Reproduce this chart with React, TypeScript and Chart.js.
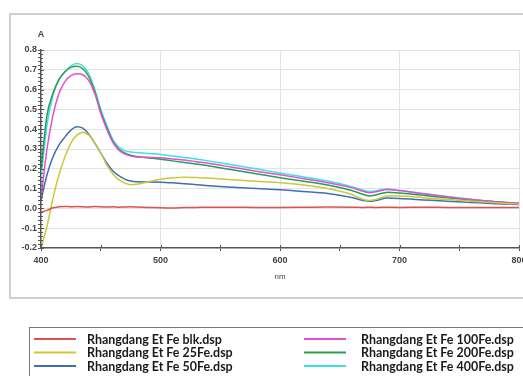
import React, { useEffect, useRef } from "react";
import { Chart, registerables } from "chart.js";
Chart.register(...registerables);

const wavelengths = [400, 405, 410, 415, 420, 425, 430, 435, 440, 445, 450, 455, 460, 465, 470, 475, 480, 490, 500, 510, 520, 530, 540, 560, 580, 600, 620, 640, 660, 670, 675, 680, 690, 700, 720, 740, 760, 780, 800];

const blk = [-0.02, -0.01, 0.003, 0.008, 0.01, 0.008, 0.009, 0.008, 0.007, 0.009, 0.008, 0.007, 0.008, 0.006, 0.007, 0.008, 0.007, 0.005, 0.003, 0.002, 0.004, 0.005, 0.006, 0.006, 0.005, 0.005, 0.006, 0.007, 0.006, 0.005, 0.006, 0.005, 0.006, 0.005, 0.006, 0.005, 0.004, 0.005, 0.004];
const fe25 = [-0.2, -0.09, 0.05, 0.17, 0.26, 0.33, 0.37, 0.385, 0.37, 0.33, 0.28, 0.22, 0.175, 0.145, 0.128, 0.12, 0.122, 0.135, 0.147, 0.155, 0.157, 0.156, 0.153, 0.145, 0.137, 0.13, 0.118, 0.1, 0.07, 0.045, 0.04, 0.045, 0.062, 0.062, 0.054, 0.045, 0.036, 0.028, 0.022];
const fe50 = [0.04, 0.17, 0.26, 0.32, 0.36, 0.395, 0.412, 0.405, 0.375, 0.33, 0.28, 0.23, 0.19, 0.165, 0.148, 0.138, 0.134, 0.133, 0.132, 0.129, 0.125, 0.12, 0.115, 0.107, 0.1, 0.094, 0.085, 0.075, 0.055, 0.04, 0.036, 0.04, 0.052, 0.05, 0.043, 0.036, 0.03, 0.024, 0.02];
const fe100 = [0.05, 0.3, 0.47, 0.58, 0.64, 0.67, 0.68, 0.675, 0.645, 0.58, 0.48, 0.4, 0.335, 0.295, 0.275, 0.265, 0.26, 0.258, 0.256, 0.25, 0.244, 0.236, 0.228, 0.208, 0.188, 0.17, 0.15, 0.13, 0.105, 0.085, 0.079, 0.084, 0.096, 0.09, 0.074, 0.058, 0.045, 0.034, 0.026];
const fe200 = [0.2, 0.47, 0.58, 0.65, 0.69, 0.712, 0.718, 0.705, 0.665, 0.59, 0.49, 0.41, 0.34, 0.3, 0.28, 0.268, 0.262, 0.255, 0.248, 0.24, 0.232, 0.224, 0.215, 0.195, 0.175, 0.155, 0.137, 0.118, 0.09, 0.07, 0.063, 0.068, 0.082, 0.078, 0.066, 0.054, 0.043, 0.033, 0.025];
const fe400 = [0.15, 0.42, 0.57, 0.65, 0.69, 0.72, 0.732, 0.72, 0.68, 0.6, 0.5, 0.42, 0.35, 0.31, 0.292, 0.285, 0.282, 0.277, 0.272, 0.265, 0.257, 0.249, 0.24, 0.22, 0.2, 0.179, 0.159, 0.138, 0.11, 0.092, 0.085, 0.088, 0.098, 0.09, 0.075, 0.06, 0.046, 0.034, 0.026];

const seriesLabels = [
  "Rhangdang Et Fe blk.dsp",
  "Rhangdang Et Fe 25Fe.dsp",
  "Rhangdang Et Fe 50Fe.dsp",
  "Rhangdang Et Fe 100Fe.dsp",
  "Rhangdang Et Fe 200Fe.dsp",
  "Rhangdang Et Fe 400Fe.dsp",
];
const seriesColors = ["#d9534f", "#c9c93a", "#3f6fb0", "#e050d0", "#2a9a55", "#3ee0e0"];

const xTickValues = [400, 450, 500, 550, 600, 650, 700, 750, 800];
const yMinorStep = 0.02;
const yMin = -0.2;
const yMax = 0.8;
const xTitle = "nm";
const yTitle = "A";

const isMajorY = (v: number) => Math.abs(Math.round(v * 10) - v * 10) < 1e-6;

export default function App() {
  const ref = useRef<HTMLCanvasElement>(null);
  useEffect(() => {
    document.body.style.margin = "0";
    document.body.style.overflow = "hidden";
    const canvas = ref.current!;
    const series = [blk, fe25, fe50, fe100, fe200, fe400];

    const decor = {
      id: "decor",
      beforeDraw(chart: any) {
        const c = chart.ctx;
        c.save();
        c.fillStyle = "#fff";
        c.fillRect(0, 0, chart.width, chart.height);
        c.strokeStyle = "#cfcfcf";
        c.lineWidth = 2;
        c.strokeRect(10, 14, 700, 284);
        c.strokeStyle = "#7a7a7a";
        c.lineWidth = 1;
        c.strokeRect(29.5, 327.5, 700, 100);
        c.restore();
      },
      afterDraw(chart: any) {
        const c = chart.ctx;
        const xs = chart.scales.x;
        const ys = chart.scales.y;
        const area = chart.chartArea;
        c.save();
        c.strokeStyle = "#555";
        c.lineWidth = 1;
        xs.ticks.forEach((t: any) => {
          const px = Math.round(xs.getPixelForValue(t.value)) + 0.5;
          c.beginPath();
          c.moveTo(px, area.bottom);
          c.lineTo(px, area.bottom - 3);
          c.stroke();
        });
        ys.ticks.forEach((t: any) => {
          const py = Math.round(ys.getPixelForValue(t.value)) + 0.5;
          c.beginPath();
          c.moveTo(area.left, py);
          c.lineTo(area.left + (isMajorY(t.value) ? 3 : 2), py);
          c.stroke();
        });
        c.fillStyle = "#444";
        c.font = "bold 9px 'Liberation Sans', Arial, sans-serif";
        c.textAlign = "center";
        c.textBaseline = "middle";
        c.fillText(yTitle, area.left, 35);
        c.font = "8px 'Liberation Sans', Arial, sans-serif";
        c.fillText(xTitle, (area.left + area.right) / 2, 277);

        // legend
        c.font = "bold 12px Lato, sans-serif";
        const w = c.measureText(seriesLabels[0]).width;
        const fs = (12 * 135) / w;
        c.font = `bold ${fs.toFixed(2)}px Lato, sans-serif`;
        c.textAlign = "left";
        const rowY = [339, 352.5, 366];
        const colLine = [34, 304];
        const colText = [87, 361];
        chart.data.datasets.forEach((ds: any, i: number) => {
          const col = Math.floor(i / 3);
          const row = i % 3;
          const y = rowY[row];
          c.strokeStyle = ds.borderColor;
          c.lineWidth = 2;
          c.beginPath();
          c.moveTo(colLine[col], y);
          c.lineTo(colLine[col] + 42, y);
          c.stroke();
          c.fillStyle = "#1a1a1a";
          c.fillText(ds.label, colText[col], y + 0.5);
        });
        c.restore();
      },
    };

    const tickFont = { size: 9, weight: "bold", family: "'Liberation Sans', Arial, sans-serif" };

    const chart = new Chart(canvas, {
      type: "line",
      data: {
        datasets: series.map((s, i) => ({
          label: seriesLabels[i],
          data: wavelengths.map((w, j) => ({ x: w, y: s[j] })),
          borderColor: seriesColors[i],
          backgroundColor: seriesColors[i],
          borderWidth: 1.5,
          pointRadius: 0,
          tension: 0.4,
          cubicInterpolationMode: "monotone",
          fill: false,
        })),
      },
      options: {
        animation: false,
        responsive: false,
        devicePixelRatio: 1,
        layout: { padding: { left: 10, top: 50, right: 21, bottom: 78 } },
        plugins: { legend: { display: false }, tooltip: { enabled: false } },
        scales: {
          x: {
            type: "linear",
            min: 400,
            max: 800,
            afterBuildTicks: (scale: any) => {
              scale.ticks = xTickValues.map((v) => ({ value: v }));
            },
            afterFit: (scale: any) => {
              scale.height = 50;
            },
            ticks: {
              autoSkip: false,
              maxRotation: 0,
              padding: 4,
              color: "#444",
              font: tickFont,
              callback: (v: any) => (Number(v) % 100 === 0 ? String(v) : ""),
            },
            grid: {
              color: (ctx: any) =>
                ctx.tick && ctx.tick.value % 100 === 0 && ctx.tick.value !== 400 ? "#e2e2e2" : "rgba(0,0,0,0)",
              tickColor: "#555",
              tickLength: 3,
              lineWidth: 1,
            },
            border: { color: "#555", width: 1.5 },
          },
          y: {
            type: "linear",
            min: yMin,
            max: yMax,
            afterBuildTicks: (scale: any) => {
              const arr: any[] = [];
              for (let k = 0; k <= Math.round((yMax - yMin) / yMinorStep); k++) {
                arr.push({ value: Math.round((yMin + k * yMinorStep) * 100) / 100 });
              }
              scale.ticks = arr;
            },
            afterFit: (scale: any) => {
              scale.width = 31;
            },
            ticks: {
              autoSkip: false,
              padding: 1,
              color: "#444",
              font: tickFont,
              callback: (v: any) => (isMajorY(Number(v)) ? Number(v).toFixed(1) : ""),
            },
            grid: {
              color: (ctx: any) => (ctx.tick && isMajorY(ctx.tick.value) && ctx.tick.value > yMin + 0.01 ? "#e2e2e2" : "rgba(0,0,0,0)"),
              tickColor: "#555",
              tickLength: 3,
              lineWidth: 1,
            },
            border: { color: "#555", width: 1.5 },
          },
        },
      },
      plugins: [decor],
    } as any);
    return () => chart.destroy();
  }, []);
  return (
    <div style={{ width: 523, height: 376, overflow: "hidden", position: "relative", background: "#fff" }}>
      <canvas ref={ref} width={540} height={376} style={{ display: "block", width: 540, height: 376 }} />
    </div>
  );
}
